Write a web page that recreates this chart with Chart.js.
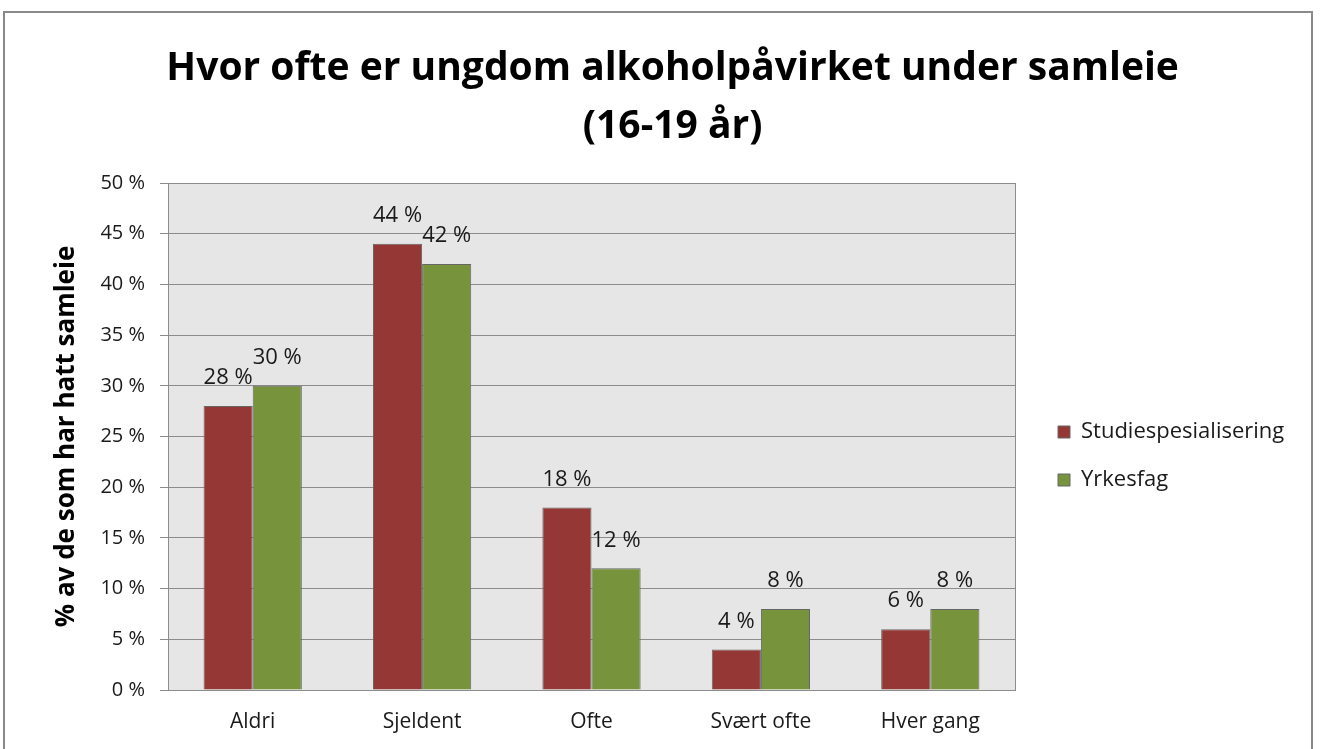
<!DOCTYPE html>
<html>
<head>
<meta charset="utf-8">
<script src="https://cdn.jsdelivr.net/npm/chart.js@4/dist/chart.umd.min.js"></script>
<style>
html,body{margin:0;padding:0;background:#fff;}
#wrap{width:1320px;height:749px;position:relative;}
</style>
</head>
<body>
<div id="wrap"><canvas id="c" width="1320" height="749"></canvas></div>
<script>
const categories = ['Aldri', 'Sjeldent', 'Ofte', 'Svært ofte', 'Hver gang'];
const studiespesialisering = [28, 44, 18, 4, 6];
const yrkesfag = [30, 42, 12, 8, 8];
const seriesNames = ['Studiespesialisering', 'Yrkesfag'];
const titleLines = ['Hvor ofte er ungdom alkoholpåvirket under samleie', '(16-19 år)'];
const yAxisTitle = '% av de som har hatt samleie';
const yMin = 0, yMax = 50, yStep = 5;

const TARGET = {top: 183, right: 1015, bottom: 690, left: 168};
const PAD_LEFT = 51;
const FONT = "'Open Sans', 'Liberation Sans', sans-serif";

const bgPlugin = {
  id: 'bg',
  beforeDraw(chart) {
    const ctx = chart.ctx, a = chart.chartArea;
    ctx.save();
    ctx.fillStyle = '#ffffff';
    ctx.fillRect(0, 0, chart.width, chart.height);
    ctx.fillStyle = '#e6e6e6';
    ctx.fillRect(a.left, a.top, a.right - a.left, a.bottom - a.top);
    ctx.restore();
  },
  beforeDatasetsDraw(chart) {
    const ctx = chart.ctx, a = chart.chartArea;
    ctx.save();
    ctx.strokeStyle = '#8c8c8c';
    ctx.lineWidth = 1;
    ctx.beginPath();
    ctx.moveTo(Math.round(a.right) + 0.5, a.top);
    ctx.lineTo(Math.round(a.right) + 0.5, a.bottom);
    ctx.stroke();
    ctx.restore();
  },
  afterDraw(chart) {
    const ctx = chart.ctx;
    ctx.save();
    ctx.strokeStyle = '#8a8a8a';
    ctx.lineWidth = 2;
    ctx.strokeRect(4, 12, 1308, 800);
    ctx.restore();
  }
};

const labelPlugin = {
  id: 'valueLabels',
  afterDatasetsDraw(chart) {
    const ctx = chart.ctx;
    ctx.save();
    ctx.font = "22px " + FONT;
    ctx.fillStyle = '#1a1a1a';
    ctx.textAlign = 'center';
    ctx.textBaseline = 'middle';
    chart.data.datasets.forEach((ds, i) => {
      chart.getDatasetMeta(i).data.forEach((bar, j) => {
        ctx.fillText(ds.data[j] + ' %', bar.x, bar.y - 28);
      });
    });
    ctx.restore();
  }
};

const chart = new Chart(document.getElementById('c'), {
  type: 'bar',
  data: {
    labels: categories,
    datasets: [
      {label: seriesNames[0], data: studiespesialisering, backgroundColor: '#953735', borderColor: '#666666', borderWidth: 1},
      {label: seriesNames[1], data: yrkesfag, backgroundColor: '#77933c', borderColor: '#666666', borderWidth: 1}
    ]
  },
  options: {
    responsive: false,
    animation: false,
    devicePixelRatio: 1,
    layout: {padding: {top: 12, left: PAD_LEFT, right: 20, bottom: 0}},
    datasets: {bar: {categoryPercentage: 0.58, barPercentage: 1.0}},
    plugins: {
      title: {
        display: true,
        text: titleLines,
        color: '#000',
        font: {family: FONT, size: 39, weight: 'bold', lineHeight: 58/39},
        padding: {top: 28, bottom: 20}
      },
      legend: {
        position: 'right',
        align: 'center',
        fullSize: false,
        title: {display: true, text: '', font: {size: 20, lineHeight: 1.2}, padding: 7.5},
        labels: {
          boxWidth: 12, boxHeight: 12, padding: 26,
          color: '#1a1a1a',
          font: {family: FONT, size: 22}
        }
      },
      tooltip: {enabled: false}
    },
    scales: {
      x: {
        grid: {display: false, drawTicks: false},
        border: {display: true, color: '#8c8c8c', width: 1},
        ticks: {color: '#1a1a1a', font: {family: FONT, size: 21}, padding: 19},
        afterFit(s) { s.height = 749 - TARGET.bottom; }
      },
      y: {
        min: yMin, max: yMax,
        grid: {color: '#8c8c8c', lineWidth: 1, tickLength: 8, drawTicks: true},
        border: {display: true, color: '#8c8c8c', width: 1},
        ticks: {stepSize: yStep, color: '#1a1a1a', font: {family: FONT, size: 20}, padding: 15,
          callback: v => v + ' %'},
        title: {display: true, text: yAxisTitle, color: '#000', font: {family: FONT, size: 26, weight: 'bold'}, padding: 0},
        afterFit(s) { s.width = TARGET.left - PAD_LEFT; }
      },
      yRight: {
        position: 'right',
        display: false,
        afterFit(s) { s.width = 17; }
      }
    }
  },
  plugins: [bgPlugin, labelPlugin]
});

// fine-tune layout so that the plot area sits where the reference has it
for (let k = 0; k < 3; k++) {
  const a = chart.chartArea;
  chart.options.layout.padding.right += (a.right - TARGET.right);
  chart.options.plugins.title.padding.bottom += (TARGET.top - a.top);
  chart.update('none');
}
</script>
</body>
</html>
